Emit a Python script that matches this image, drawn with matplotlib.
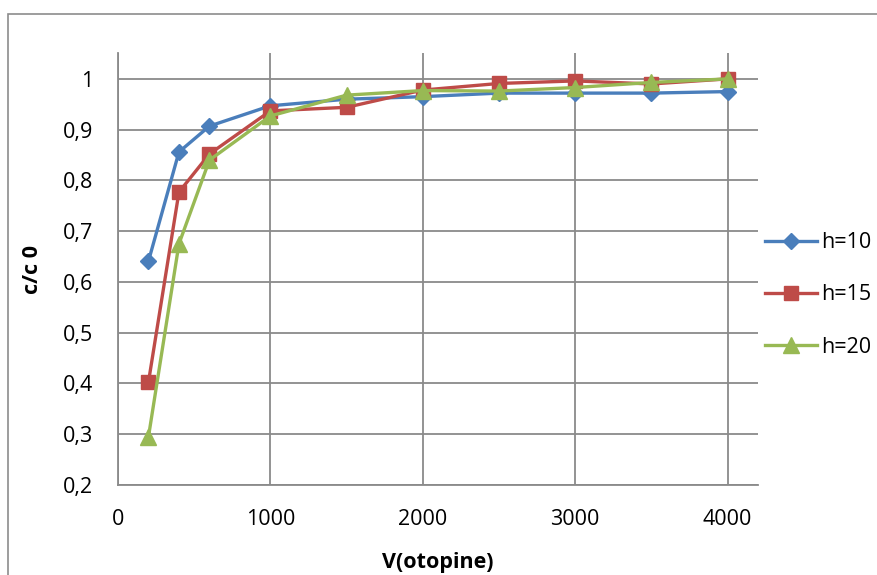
import matplotlib
matplotlib.use("Agg")
import matplotlib.pyplot as plt
from matplotlib.ticker import FuncFormatter
from matplotlib.patches import Rectangle

# data
volume = [200, 400, 600, 1000, 1500, 2000, 2500, 3000, 3500, 4000]
h10 = [0.641, 0.856, 0.907, 0.947, 0.960, 0.965, 0.972, 0.972, 0.972, 0.975]
h15 = [0.403, 0.777, 0.852, 0.937, 0.944, 0.978, 0.991, 0.996, 0.990, 1.000]
h20 = [0.295, 0.675, 0.840, 0.927, 0.968, 0.977, 0.976, 0.983, 0.993, 1.000]
series_labels = ["h=10", "h=15", "h=20"]


def comma_fmt(v, pos):
    # decimal comma, "1" instead of "1,0"
    if abs(v - round(v)) < 1e-9:
        return str(int(round(v)))
    return f"{v:.1f}".replace(".", ",")


plt.rcParams['font.family'] = ['Open Sans', 'DejaVu Sans']

fig = plt.figure(figsize=(8.77, 5.75), dpi=100)
ax = fig.add_axes([118 / 877, 1 - 485 / 575, 640 / 877, 432 / 575])

# chart border (outer frame, cut off at right/bottom)
fig.patches.append(Rectangle((8 / 877, -0.1), 1.1, 1 - 14 / 575 + 0.1,
                             transform=fig.transFigure, fill=False,
                             edgecolor="#8c8c8c", linewidth=1.2))

blue, red, green = "#4A7EBB", "#BE4B48", "#98B954"
ax.plot(volume, h10, color=blue, lw=2.4, marker="D", ms=8.5, label=series_labels[0])
ax.plot(volume, h15, color=red, lw=2.4, marker="s", ms=10, label=series_labels[1])
ax.plot(volume, h20, color=green, lw=2.4, marker="^", ms=11, label=series_labels[2])

ax.set_xlim(0, 4200)
ax.set_ylim(0.2, 1.051)
ax.set_xticks([0, 1000, 2000, 3000, 4000])
ax.set_yticks([0.2, 0.3, 0.4, 0.5, 0.6, 0.7, 0.8, 0.9, 1.0])
ax.yaxis.set_major_formatter(FuncFormatter(comma_fmt))

ax.grid(True, color="#8a8a8a", linewidth=1.3)
ax.set_axisbelow(True)
for s in ["top", "right"]:
    ax.spines[s].set_visible(False)
for s in ["left", "bottom"]:
    ax.spines[s].set_color("#8a8a8a")
    ax.spines[s].set_linewidth(1.3)
ax.tick_params(axis="both", length=0, labelsize=15.5)
ax.tick_params(axis="y", pad=18)
ax.tick_params(axis="x", pad=17)

ax.set_xlabel("V(otopine)", fontsize=15.5, fontweight="bold", labelpad=16)
ax.set_ylabel("c/c 0", fontsize=15.5, fontweight="bold", labelpad=14)

ax.legend(loc="center left", bbox_to_anchor=(1 + 7 / 640, 0.44), frameon=False,
          fontsize=15.5, handlelength=2.4, labelspacing=1.45, handletextpad=0.2,
          borderaxespad=0, borderpad=0)

fig.savefig("out.png", dpi=100)
